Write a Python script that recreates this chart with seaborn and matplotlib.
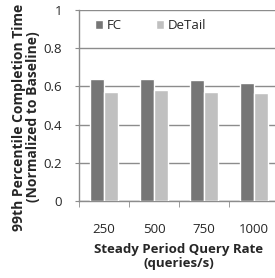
import numpy as np
import pandas as pd
import seaborn as sns
import matplotlib.pyplot as plt
from matplotlib.ticker import FixedLocator

# data
rates = ['250', '500', '750', '1000']
fc = [0.64, 0.64, 0.635, 0.62]
detail = [0.57, 0.58, 0.57, 0.565]

df = pd.DataFrame({
    'rate': rates * 2,
    'value': fc + detail,
    'scheme': ['FC'] * 4 + ['DeTail'] * 4,
})

sns.set_style('white')
plt.rcParams['font.family'] = ['Open Sans', 'DejaVu Sans']

fig = plt.figure(figsize=(2.75, 2.78), dpi=100)
ax = fig.add_axes([79 / 275, 1 - 201 / 278, 200 / 275, 191 / 278])

grid_col = '#8c8c8c'
sns.barplot(data=df, x='rate', y='value', hue='scheme', ax=ax,
            palette={'FC': '#767676', 'DeTail': '#c0c0c0'},
            width=0.56, saturation=1, errorbar=None, zorder=3)

ax.set_xlim(-0.5, 3.5)
ax.set_ylim(0, 1)
ax.set_yticks([0, 0.2, 0.4, 0.6, 0.8, 1])
ax.set_yticklabels(['0', '0.2', '0.4', '0.6', '0.8', '1'])
ax.yaxis.grid(True, color=grid_col, lw=1)
ax.set_axisbelow(True)

for s in ['top', 'right']:
    ax.spines[s].set_visible(False)
for s in ['left', 'bottom']:
    ax.spines[s].set_color(grid_col)
    ax.spines[s].set_linewidth(1)

ax.tick_params(axis='x', which='major', length=0, pad=16, labelsize=9.5)
ax.xaxis.set_minor_locator(FixedLocator(np.arange(-0.5, 4, 1)))
ax.tick_params(axis='x', which='minor', length=4, color=grid_col, bottom=True)
ax.tick_params(axis='y', length=3, color=grid_col, left=True, labelsize=9.5, pad=9)

ax.set_xlabel('Steady Period Query Rate\n(queries/s)', fontsize=9.5, fontweight='bold',
              labelpad=5, linespacing=1.05)
ax.set_ylabel('99th Percentile Completion Time\n(Normalized to Baseline)', fontsize=10,
              fontweight='bold', linespacing=1.0)
ax.yaxis.set_label_coords(-0.195, 0.44)

ax.legend(ncol=2, frameon=False, loc='upper left', bbox_to_anchor=(0.02, 1.015),
          handlelength=0.6, handleheight=0.6, handletextpad=0.3, columnspacing=2.6,
          fontsize=9.5)

fig.savefig('out.png', dpi=100)
